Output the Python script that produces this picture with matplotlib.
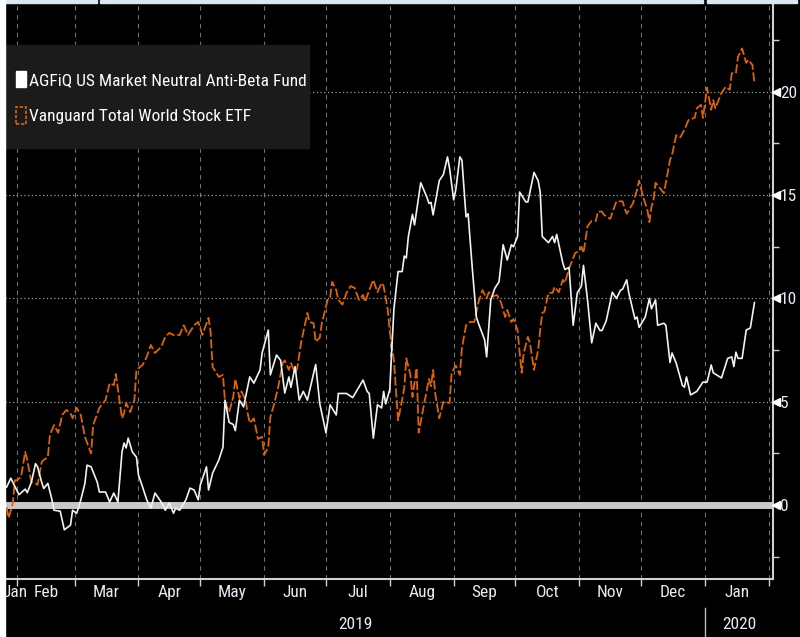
import matplotlib
matplotlib.use("Agg")
import matplotlib.pyplot as plt
import matplotlib.transforms as mtransforms
from matplotlib.patches import Patch, Rectangle
import pandas as pd

# total return, %: (days since 2019-01-01, value)
agfiq = [
    (26, 0.87), (28, 1.3), (30, 0.9), (32, 0.5), (35, 0.77), (36, 0.6), (38, 1.1), (40, 2.0),
    (41, 1.85), (43, 1.1), (44, 0.8), (46, 1.05), (48, 0.25), (49, -0.25), (52, -0.3), (54, -1.2),
    (57, -0.97), (58, -0.25), (60, -0.4), (62, 0.25), (64, 1.05), (65, 1.93), (67, 1.85), (70, 1.1),
    (71, 0.63), (74, 0.63), (76, 0.15), (78, 0.58), (80, 0.15), (82, 2.57), (83, 3.0), (84, 2.76),
    (85, 3.24), (87, 2.57), (89, 2.32), (90, 1.45), (92, 0.87), (94, 0.25), (96, -0.15), (98, 0.58),
    (101, 0.15), (103, -0.25), (105, 0.1), (107, -0.4), (108, -0.15), (110, -0.25), (113, 0.25),
    (115, 0.82), (117, 0.73), (119, 0.25), (120, 0.97), (123, 1.85), (124, 0.73), (126, 1.55),
    (129, 2.18), (131, 2.8), (132, 5.08), (134, 4.0), (136, 3.9), (137, 3.6), (139, 5.08),
    (141, 4.75), (144, 6.2), (146, 5.9), (149, 6.54), (150, 7.36), (153, 8.47), (154, 6.3),
    (157, 7.26), (159, 7.0), (161, 5.42), (163, 6.2), (164, 5.7), (166, 6.7), (168, 5.08),
    (170, 5.5), (172, 5.08), (176, 6.8), (178, 4.9), (181, 3.5), (183, 4.85), (186, 4.36),
    (187, 5.4), (191, 5.4), (194, 5.2), (199, 6.05), (201, 5.5), (202, 5.4), (204, 3.24),
    (206, 4.85), (208, 4.7), (209, 5.5), (210, 4.9), (212, 5.6), (213, 7.65), (214, 9.5),
    (216, 11.3), (218, 11.3), (219, 12.05), (220, 11.96), (221, 13.0), (223, 14.07), (224, 13.56),
    (227, 15.6), (230, 14.9), (231, 14.6), (232, 14.65), (233, 14.04), (236, 15.7), (238, 16.0),
    (240, 16.85), (241, 16.3), (243, 14.77), (244, 15.25), (246, 16.85), (247, 16.7), (249, 13.95),
    (250, 14.1), (252, 11.5), (254, 9.1), (255, 8.8), (258, 8.0), (259, 7.17), (261, 9.93),
    (263, 10.5), (265, 10.8), (267, 12.6), (269, 11.86), (271, 12.6), (272, 12.5), (274, 13.0),
    (275, 15.15), (278, 14.67), (279, 14.67), (282, 16.1), (284, 15.7), (285, 15.15), (286, 13.0),
    (287, 12.9), (289, 12.7), (291, 13.0), (292, 12.7), (293, 13.1), (296, 11.7), (297, 11.4),
    (299, 11.5), (301, 8.7), (303, 10.27), (305, 10.6), (306, 11.6), (308, 9.9), (310, 7.85),
    (312, 8.8), (314, 8.45), (315, 8.45), (317, 8.9), (320, 10.3), (322, 10.0), (324, 10.4),
    (325, 10.45), (327, 10.9), (328, 10.27), (331, 9.0), (332, 9.1), (333, 8.6), (336, 9.1),
    (338, 10.0), (339, 9.5), (341, 9.93), (342, 8.7), (345, 8.8), (346, 8.7), (348, 6.9),
    (349, 7.36), (351, 6.87), (354, 5.8), (355, 5.7), (356, 6.2), (358, 5.33), (361, 5.5),
    (364, 5.95), (366, 5.95), (368, 6.78), (369, 6.4), (373, 6.15), (376, 7.1), (378, 7.17),
    (379, 6.7), (380, 7.4), (381, 7.1), (383, 7.1), (385, 8.47), (387, 8.57), (389, 9.8),
]

vt = [
    (26, -0.1), (27, -0.63), (29, 0.1), (30, 1.2), (31, 1.2), (33, 1.36), (35, 2.57), (36, 2.18),
    (38, 1.1), (40, 1.05), (41, 0.97), (43, 2.08), (44, 2.18), (46, 2.32), (47, 3.39), (49, 3.87),
    (51, 3.5), (53, 4.36), (55, 4.6), (57, 4.45), (58, 4.2), (60, 4.7), (62, 4.36), (64, 3.3),
    (67, 2.5), (68, 3.87), (71, 4.7), (74, 5.08), (76, 5.9), (78, 5.8), (79, 6.34), (82, 4.2),
    (83, 4.45), (84, 4.94), (86, 4.5), (88, 5.08), (89, 6.54), (92, 6.78), (94, 7.17), (96, 7.75),
    (98, 7.36), (101, 7.65), (103, 8.14), (105, 8.33), (107, 8.23), (108, 8.23), (110, 8.23),
    (112, 8.7), (114, 8.23), (117, 8.7), (119, 8.86), (121, 8.23), (124, 9.06), (125, 8.38),
    (126, 6.68), (129, 6.2), (131, 6.3), (132, 5.0), (134, 4.5), (136, 5.23), (137, 6.1),
    (139, 5.18), (140, 5.5), (142, 5.08), (143, 4.45), (144, 3.97), (146, 4.2), (148, 3.2),
    (150, 3.3), (151, 2.42), (153, 2.8), (154, 4.26), (156, 4.94), (158, 5.8), (160, 6.87),
    (161, 7.0), (163, 6.54), (164, 6.87), (166, 6.4), (167, 6.6), (169, 7.9), (172, 9.3),
    (173, 8.86), (175, 8.8), (176, 7.9), (178, 8.1), (179, 8.8), (182, 10.0), (183, 10.05),
    (184, 10.8), (186, 10.4), (187, 9.93), (189, 9.7), (191, 10.27), (193, 10.6), (195, 10.5),
    (197, 9.93), (199, 10.17), (200, 9.83), (202, 10.4), (204, 10.9), (206, 10.3), (208, 10.75),
    (209, 10.6), (211, 9.44), (212, 8.4), (213, 7.65), (214, 7.0), (216, 4.1), (218, 5.1),
    (219, 5.66), (220, 7.1), (222, 6.3), (223, 5.23), (225, 6.63), (226, 3.5), (229, 5.08),
    (231, 6.1), (232, 5.75), (233, 6.54), (234, 5.42), (236, 4.2), (238, 5.0), (241, 4.94),
    (242, 6.4), (244, 6.75), (246, 6.3), (247, 7.6), (249, 8.7), (251, 8.86), (253, 8.86),
    (255, 9.8), (257, 10.4), (259, 10.0), (260, 10.3), (262, 10.1), (264, 10.17), (266, 9.8),
    (268, 9.1), (269, 9.44), (271, 8.86), (272, 9.0), (274, 8.47), (275, 7.4), (276, 6.4),
    (277, 7.36), (279, 8.14), (280, 7.85), (282, 6.54), (284, 7.5), (285, 8.47), (286, 9.3),
    (287, 9.35), (289, 10.27), (291, 10.27), (292, 10.56), (294, 10.3), (296, 10.9), (297, 10.75),
    (299, 11.45), (302, 12.2), (304, 12.3), (305, 12.5), (306, 12.2), (308, 13.5), (310, 13.75),
    (312, 13.75), (313, 14.2), (315, 14.2), (316, 14.04), (319, 13.85), (320, 14.15), (322, 14.7),
    (325, 14.7), (326, 14.35), (327, 14.1), (330, 14.6), (332, 15.25), (333, 15.7), (335, 14.9),
    (337, 14.3), (338, 13.7), (339, 14.43), (340, 14.77), (341, 15.6), (343, 15.35), (345, 15.1),
    (346, 15.6), (348, 16.7), (349, 16.95), (351, 17.9), (353, 17.8), (355, 18.16), (357, 18.64),
    (360, 18.74), (361, 19.2), (363, 19.37), (364, 18.74), (366, 20.2), (368, 19.13), (369, 19.6),
    (370, 19.2), (373, 19.95), (375, 20.24), (377, 20.1), (378, 20.9), (380, 20.9), (381, 21.7),
    (383, 22.1), (385, 21.4), (386, 21.55), (388, 21.3), (389, 20.43),
]

names = ["AGFiQ US Market Neutral Anti-Beta Fund", "Vanguard Total World Stock ETF"]
month_names = ["Jan", "Feb", "Mar", "Apr", "May", "Jun", "Jul", "Aug", "Sep", "Oct", "Nov", "Dec", "Jan"]
year_names = ["2019", "2020"]
y_ticks = [0, 5, 10, 15, 20]

start = pd.Timestamp("2019-01-01")
TXT = "#e4ecf4"
ORANGE = "#dc6408"
plt.rcParams["font.family"] = ["Liberation Sans Narrow", "Roboto Condensed", "Open Sans Condensed",
                               "Roboto", "DejaVu Sans"]
plt.rcParams["font.stretch"] = "condensed"


def to_xy(pairs):
    d = [start + pd.Timedelta(days=p[0]) for p in pairs]
    v = [p[1] for p in pairs]
    return d, v


W, H = 800, 637
fig = plt.figure(figsize=(8, 6.37), dpi=100, facecolor="black")
ax = fig.add_axes([5 / W, 58 / H, 768 / W, 576 / H])
ax.set_facecolor("black")

x_lo = start + pd.Timedelta(days=25.2)
x_hi = start + pd.Timedelta(days=398)
ax.set_xlim(x_lo, x_hi)
ax.set_ylim(-3.58, 24.3)

# grid
bounds = pd.date_range("2019-02-01", "2020-02-01", freq="MS")
for b in bounds:
    ax.axvline(b, color="#707070", lw=0.8, ls=(0, (4, 4)), zorder=1)
for yv in y_ticks[1:]:
    ax.axhline(yv, color="#9a9a9a", lw=0.9, ls=(0, (1, 2)), zorder=1)
ax.axhline(0, color="#c8c8c8", lw=5, zorder=2)

d, v = to_xy(vt)
ax.plot(d, v, color=ORANGE, lw=1.3, ls=(0, (5, 1.5)), zorder=3)
d, v = to_xy(agfiq)
ax.plot(d, v, color="#f2f2f2", lw=1.2, zorder=4)

# axes frame
for s in ["left", "top"]:
    ax.spines[s].set_visible(False)
ax.spines["right"].set_color("#d0d0d0")
ax.spines["bottom"].set_color("#d0d0d0")
ax.spines["right"].set_linewidth(1.5)
ax.spines["bottom"].set_linewidth(1.5)

ax.set_xticks(bounds)
ax.set_xticklabels([])
ax.tick_params(axis="x", length=5, width=1, color="#d0d0d0", direction="out")

ax.yaxis.tick_right()
ax.set_yticks(y_ticks)
ax.set_yticklabels([str(t) for t in y_ticks])
ax.set_yticks([-2.5, 2.5, 7.5, 12.5, 17.5, 22.5], minor=True)
ax.tick_params(axis="y", which="major", length=0, pad=5, labelsize=12.5, labelcolor=TXT)
ax.tick_params(axis="y", which="minor", length=4, width=1, color="#d0d0d0")

# triangle markers at the value ticks
tri = mtransforms.blended_transform_factory(ax.transAxes, ax.transData)
ax.plot([1.004] * len(y_ticks), y_ticks, ls="none", marker="<", ms=6, color="white",
        transform=tri, clip_on=False, zorder=5)

# month and year labels
lab = mtransforms.blended_transform_factory(ax.transData, ax.transAxes)
mids = [start + pd.Timedelta(days=30)]
for a, b in zip(bounds[:-1], bounds[1:]):
    mids.append(a + (b - a) / 2)
for m, name in zip(mids, month_names):
    ax.text(m, -0.024, name, transform=lab, ha="center", va="center", color=TXT, fontsize=12.5)
y19 = x_lo + (pd.Timestamp("2020-01-01") - x_lo) / 2
y20 = pd.Timestamp("2020-01-01") + (x_hi - pd.Timestamp("2020-01-01")) / 2
for m, name in zip([y19, y20], year_names):
    ax.text(m, -0.079, name, transform=lab, ha="center", va="center", color=TXT, fontsize=12.5)
jan1 = pd.Timestamp("2020-01-01")
ax.plot([jan1, jan1], [-0.05, -0.11], color="#bbbbbb", lw=1, transform=lab, clip_on=False)

# legend: dark panel + entries
fig.patches.append(Rectangle((5 / W, (H - 148) / H), 304 / W, 103 / H,
                             transform=fig.transFigure, color="#1b1b1b", zorder=6))
handles = [Patch(facecolor="white", edgecolor="white"),
           Patch(facecolor="none", edgecolor=ORANGE, ls=(0, (2, 1)), lw=1.2)]
leg = fig.legend(handles, names, loc="upper left", bbox_to_anchor=(16 / W, (H - 71) / H),
                 frameon=False, fontsize=12.5, labelcolor="white", handlelength=0.58,
                 handleheight=1.05, handletextpad=0.15, borderpad=0, labelspacing=1.12,
                 borderaxespad=0)
leg.set_zorder(7)

# terminal window strip at the top
for x0, x1 in [(5, 97), (100, 703), (707, 797)]:
    fig.patches.append(Rectangle((x0 / W, (H - 3) / H), (x1 - x0) / W, 3 / H,
                                 transform=fig.transFigure, color="#dae6f2", zorder=10))
fig.patches.append(Rectangle((0, 0), 5 / W, 1, transform=fig.transFigure,
                             color="white", zorder=10))

fig.savefig("out.png", dpi=100, facecolor="black")
